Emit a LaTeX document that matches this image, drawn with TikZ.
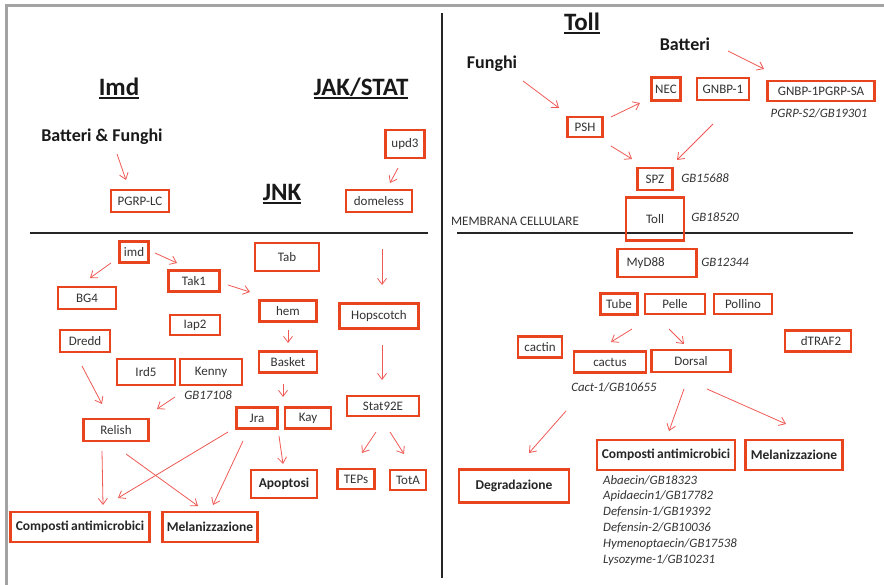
\documentclass[tikz,border=0pt]{standalone}
\usepackage{fontspec}
\setmainfont{Carlito}
\usetikzlibrary{arrows.meta}
\definecolor{boxred}{HTML}{E8451F}
\definecolor{arrred}{HTML}{EF5A55}
\definecolor{txt}{HTML}{333333}
\definecolor{framegray}{HTML}{A3A3A3}
\newcommand{\headul}[1]{\vtop{\hbox{#1}\kern1.2pt\hrule height 2pt}}
\tikzset{
  wh/.style 2 args={minimum width=#1pt, minimum height=#2pt},
  box/.style={draw=boxred, line width=2.3pt, inner sep=0pt, text=txt, font=\fontsize{13}{15}\selectfont},
  outbox/.style={box, font=\fontsize{13.5}{16}\selectfont\bfseries, text=black!85},
  head/.style={inner sep=0pt, font=\fontsize{25}{30}\selectfont\bfseries, text=black!90},
  subhead/.style={inner sep=0pt, font=\fontsize{18}{22}\selectfont\bfseries, text=black!90},
  gb/.style={inner sep=0pt, font=\fontsize{12.8}{15.8}\selectfont\itshape, text=txt},
  plain/.style={inner sep=0pt, font=\fontsize{13}{15}\selectfont, text=txt},
  arr/.style={draw=arrred, line width=0.8pt, -{Straight Barb[length=6pt,width=9pt]}},
  divider/.style={line width=2.5pt, black!85},
}
\begin{document}
\begin{tikzpicture}[x=1pt,y=-1pt]
\useasboundingbox (0,0) rectangle (884,585);
\fill[white] (0,0) rectangle (884,585);
% frame
\draw[framegray, line width=2.6pt] (6.5,585) -- (6.5,5.3) -- (884,5.3);
% dividers
\draw[divider] (442,13) -- (442,578);
\draw[divider] (30,233) -- (428,233);
\draw[divider] (457,233) -- (853,233);

% ---------- LEFT: headings ----------
\node[head] (hImd) at (119,88.5) {\headul{Imd}};
\node[head] (hJak) at (361,88.5) {\headul{JAK/STAT}};
\node[head] (hJnk) at (282,194.5) {\headul{JNK}};
\node[subhead] (bf) at (102,137) {Batteri \& Funghi};

% ---------- LEFT: boxes ----------
\node[box, wh={58}{22}] (pgrplc) at (140,201) {PGRP-LC};
\node[box, wh={39}{28}] (upd3) at (405,144) {upd3};
\node[box, wh={66}{22}] (domeless) at (379,201) {domeless};
\node[box, wh={29}{21}] (imd) at (134,252) {imd};
\node[box, wh={51}{21}] (tak1) at (194,281) {Tak1};
\node[box, wh={58}{22}] (bg4) at (87,298) {BG4};
\node[box, wh={50}{20}] (iap2) at (195,325) {Iap2};
\node[box, wh={50}{22}] (dredd) at (85,341) {Dredd};
\node[box, wh={58}{26}] (ird5) at (146,372) {Ird5};
\node[box, wh={62}{26}] (kenny) at (211,372) {Kenny};
\node[gb] (gb17108) at (208,395) {GB17108};
\node[box, wh={64}{28}] (tab) at (287,257) {Tab};
\node[box, wh={57}{21}] (hem) at (288,311) {hem};
\node[box, wh={58}{21}] (basket) at (288,362) {Basket};
\node[box, wh={79}{25}] (hop) at (379,316) {Hopscotch};
\node[box, wh={72}{20}] (stat) at (383,406) {Stat92E};
\node[box, wh={41}{21}] (jra) at (257,418) {Jra};
\node[box, wh={46}{21}] (kay) at (308,418) {Kay};
\node[box, wh={65}{22}] (relish) at (116,430) {Relish};
\node[outbox, wh={66}{28}] (apop) at (284,484) {Apoptosi};
\node[box, wh={37}{20}] (teps) at (356,479) {TEPs};
\node[box, wh={36}{20}] (tota) at (408,480) {TotA};
\node[outbox, wh={139}{30}] (compL) at (80,527) {Composti\,antimicrobici};
\node[outbox, wh={95}{30}] (melL) at (210,527) {Melanizzazione};
\coordinate (jakin) at (382,249);

% ---------- LEFT: arrows ----------
\draw[arr] ([shift={(15,17)}]bf.center) -- ([shift={(-14,-21)}]pgrplc.center);
\draw[arr] ([shift={(-7,24)}]upd3.center) -- ([shift={(11,-18)}]domeless.center);
\draw[arr] ([shift={(-23,11)}]imd.center) -- ([shift={(3,-20)}]bg4.center);
\draw[arr] ([shift={(21,1)}]imd.center) -- ([shift={(-17,-18)}]tak1.center);
\draw[arr] ([shift={(34,4)}]tak1.center) -- ([shift={(-38,-19)}]hem.center);
\draw[arr] ([shift={(0,19)}]hem.center) -- ([shift={(0,-19)}]basket.center);
\draw[arr] ([shift={(-5,22)}]basket.center) -- ([shift={(26,-21)}]jra.center);
\draw[arr] ([shift={(-3,25)}]dredd.center) -- ([shift={(-14,-26)}]relish.center);
\draw[arr] ([shift={(-33,2)}]gb17108.center) -- ([shift={(41,-21)}]relish.center);
\draw[arr] ([shift={(-14,21)}]relish.center) -- ([shift={(23,-22)}]compL.center);
\draw[arr] ([shift={(10,24)}]relish.center) -- ([shift={(-12,-21)}]melL.center);
\draw[arr] ([shift={(-29,14)}]jra.center) -- ([shift={(38,-29)}]compL.center);
\draw[arr] ([shift={(-14,23)}]jra.center) -- ([shift={(3,-22)}]melL.center);
\draw[arr] ([shift={(22,18)}]jra.center) -- ([shift={(-1,-20)}]apop.center);
\draw[arr] (jakin) -- ([shift={(3,-31)}]hop.center);
\draw[arr] ([shift={(3,29)}]hop.center) -- ([shift={(-1,-26)}]stat.center);
\draw[arr] ([shift={(-7,26)}]stat.center) -- ([shift={(6,-26)}]teps.center);
\draw[arr] ([shift={(7,26)}]stat.center) -- ([shift={(-4,-26)}]tota.center);

% ---------- RIGHT: headings ----------
\node[head] (hToll) at (582,23.5) {\headul{Toll}};
\node[subhead] (batteri) at (685,44) {Batteri};
\node[subhead] (funghi) at (492,64) {Funghi};

% ---------- RIGHT: boxes ----------
\node[box, wh={35}{20}] (psh) at (585,127) {PSH};
\node[box, wh={29}{23}] (nec) at (666,89) {NEC};
\node[box, wh={52}{22}] (gnbp1) at (723,89) {GNBP-1};
\node[box, wh={107}{20}] (gnbpsa) at (821,91) {GNBP-1PGRP-SA};
\node[gb] (pgrps2) at (819,113) {PGRP-S2/GB19301};
\node[box, wh={35}{22}] (spz) at (655,179) {SPZ};
\node[gb] (gb15688) at (705,178) {GB15688};
\node[box, wh={58}{43}] (tollbox) at (655,219) {Toll};
\node[gb] (gb18520) at (715,217) {GB18520};
\node[plain] (membr) at (515,221) {MEMBRANA CELLULARE};
\node[box, wh={79}{28}, inner xsep=9pt, text width=61pt, align=left] (myd88) at (657,263) {MyD88};
\node[gb] (gb12344) at (725,262) {GB12344};
\node[box, wh={37}{21}] (tube) at (619,304) {Tube};
\node[box, wh={60}{20}] (pelle) at (675,304) {Pelle};
\node[box, wh={58}{20}] (pollino) at (743,304) {Pollino};
\node[box, wh={44}{21}] (cactin) at (540,347) {cactin};
\node[box, wh={72}{21}] (cactus) at (610,362) {cactus};
\node[box, wh={79}{22}] (dorsal) at (691,361) {Dorsal};
\node[box, wh={66}{21}] (dtraf2) at (818,341) {\hspace*{6pt}dTRAF2};
\node[gb] (cact1) at (614,387) {Cact-1/GB10655};
\node[outbox, wh={110}{33}] (degr) at (514,486) {Degradazione};
\node[outbox, wh={138}{30}] (compR) at (666,455) {Composti\,antimicrobici};
\node[outbox, wh={97}{30}] (melR) at (794,455) {Melanizzazione};
\node[gb, align=left, anchor=north west] (amp) at (603,475) {Abaecin/GB18323\\Apidaecin1/GB17782\\Defensin-1/GB19392\\Defensin-2/GB10036\\Hymenoptaecin/GB17538\\Lysozyme-1/GB10231};

% ---------- RIGHT: arrows ----------
\draw[arr] ([shift={(31,17)}]funghi.center) -- ([shift={(-26,-19)}]psh.center);
\draw[arr] ([shift={(43,7)}]batteri.center) -- ([shift={(-57,-22)}]gnbpsa.center);
\draw[arr] ([shift={(26,-10)}]psh.center) -- ([shift={(-26,14)}]nec.center);
\draw[arr] ([shift={(26,19)}]psh.center) -- ([shift={(-23,-20)}]spz.center);
\draw[arr] ([shift={(-10,35)}]gnbp1.center) -- ([shift={(22,-19)}]spz.center);
\draw[arr] ([shift={(13,25)}]tube.center) -- ([shift={(1,-20)}]cactus.center);
\draw[arr] ([shift={(-6,25)}]pelle.center) -- ([shift={(-7,-17)}]dorsal.center);
\draw[arr] ([shift={(-44,49)}]cactus.center) -- ([shift={(15,-33)}]degr.center);
\draw[arr] ([shift={(-7,28)}]dorsal.center) -- ([shift={(3,-24)}]compR.center);
\draw[arr] ([shift={(16,28)}]dorsal.center) -- ([shift={(-8,-31)}]melR.center);
\end{tikzpicture}
\end{document}
